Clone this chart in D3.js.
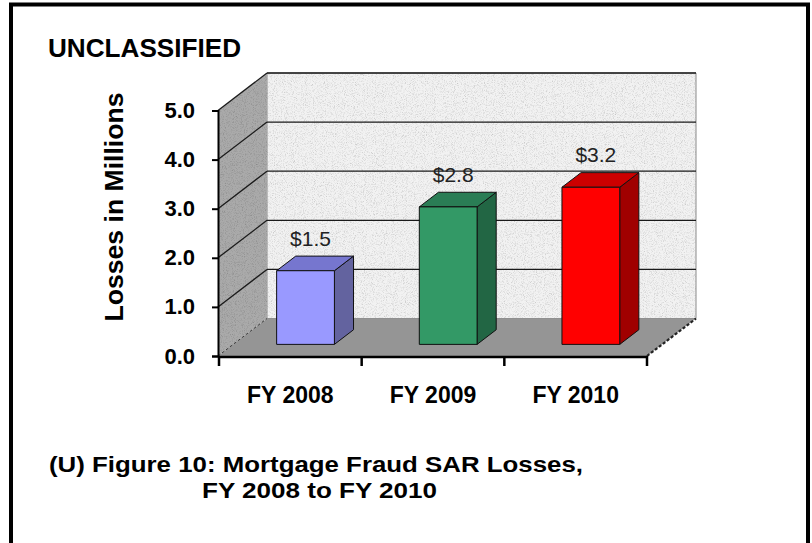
<!DOCTYPE html>
<html>
<head>
<meta charset="utf-8">
<script src="https://cdn.jsdelivr.net/npm/d3@7"></script>
<style>
  body { margin: 0; background: #fff; }
  text { font-family: "Liberation Sans", Arial, sans-serif; }
</style>
</head>
<body>
<div id="chart"></div>
<script>
// data
var years = ["FY 2008", "FY 2009", "FY 2010"];
var losses = [1.5, 2.8, 3.2];
var valueLabels = ["$1.5", "$2.8", "$3.2"];
var yTicks = [0, 1, 2, 3, 4, 5];

// colours for each bar: front, top, side
var barFront = ["#9999ff", "#339966", "#ff0000"];
var barTop = ["#7676cf", "#2a7d55", "#cc0000"];
var barSide = ["#63639f", "#226644", "#a00000"];

var svgWidth = 812;
var svgHeight = 543;

// 3d depth offset of the back wall
var DX = 49, DY = -37.5;
var z0 = 0.31, z1 = 0.70;

var svg = d3.select("#chart")
  .append("svg")
  .attr("width", svgWidth)
  .attr("height", svgHeight);

// granite-like speckle for the walls
var defs = svg.append("defs");
var f = defs.append("filter")
  .attr("id", "speckle")
  .attr("x", 0).attr("y", 0).attr("width", 1).attr("height", 1);
f.append("feTurbulence")
  .attr("type", "fractalNoise")
  .attr("baseFrequency", 1.1)
  .attr("numOctaves", 2)
  .attr("seed", 7)
  .attr("result", "noise");
f.append("feColorMatrix")
  .attr("in", "noise").attr("type", "saturate").attr("values", 0)
  .attr("result", "grey");
var ct = f.append("feComponentTransfer").attr("in", "grey").attr("result", "soft");
["feFuncR", "feFuncG", "feFuncB"].forEach(function(fn) {
  ct.append(fn).attr("type", "linear").attr("slope", 1.1).attr("intercept", 0.42);
});
ct.append("feFuncA").attr("type", "linear").attr("slope", 0).attr("intercept", 1);
f.append("feBlend").attr("in", "SourceGraphic").attr("in2", "soft")
  .attr("mode", "multiply").attr("result", "blend");
f.append("feComposite").attr("in", "blend").attr("in2", "SourceGraphic").attr("operator", "in");

// frame
svg.append("path")
  .attr("d", "M11,543 V4.5 H808 V543")
  .attr("fill", "none")
  .attr("stroke", "#000")
  .attr("stroke-width", 4);

// scales
var xScale = d3.scaleBand()
  .domain(years)
  .range([219, 647]);

var yScale = d3.scaleLinear()
  .domain([0, 5])
  .range([356, 110.5]);

var axisX = 218;
var xEnd = 647;

function px(x, z) { return x + z * DX; }
function py(y, z) { return y + z * DY; }
function pt(x, y, z) { return [px(x, z), py(y, z)]; }
function poly(pts) { return "M" + pts.map(function(p) { return p.join(","); }).join("L") + "Z"; }

var chartGroup = svg.append("g");

// back wall
var backWall = poly([pt(axisX, yScale(5), 1), pt(xEnd, yScale(5), 1), pt(xEnd, yScale(0), 1), pt(axisX, yScale(0), 1)]);
chartGroup.append("path")
  .attr("d", backWall)
  .attr("fill", "#f2f2f2")
  .attr("filter", "url(#speckle)");
chartGroup.append("path")
  .attr("d", backWall)
  .attr("fill", "none")
  .attr("stroke", "#8a8a8a");

// left wall
chartGroup.append("path")
  .attr("d", poly([pt(axisX, yScale(0), 0), pt(axisX, yScale(5), 0), pt(axisX, yScale(5), 1), pt(axisX, yScale(0), 1)]))
  .attr("fill", "#aaaaaa")
  .attr("filter", "url(#speckle)");

// floor
chartGroup.append("path")
  .attr("d", poly([pt(axisX, yScale(0), 0), pt(xEnd, yScale(0), 0), pt(xEnd, yScale(0), 1), pt(axisX, yScale(0), 1)]))
  .attr("fill", "#959595");

// gridlines on back wall and left wall
chartGroup.selectAll(".grid-back")
  .data(yTicks.filter(function(d) { return d > 0; }))
  .enter()
  .append("line")
  .attr("x1", px(axisX, 1))
  .attr("x2", px(xEnd, 1))
  .attr("y1", function(d) { return py(yScale(d), 1); })
  .attr("y2", function(d) { return py(yScale(d), 1); })
  .attr("stroke", "#1a1a1a")
  .attr("stroke-width", 1.3);

chartGroup.selectAll(".grid-side")
  .data(yTicks)
  .enter()
  .append("line")
  .attr("x1", axisX)
  .attr("x2", px(axisX, 1))
  .attr("y1", function(d) { return yScale(d); })
  .attr("y2", function(d) { return py(yScale(d), 1); })
  .attr("stroke", "#1a1a1a")
  .attr("stroke-width", function(d) { return d === 0 ? 0.8 : 1.3; })
  .attr("stroke-dasharray", function(d) { return d === 0 ? "3,2" : null; });

// floor right edge with small depth ticks
chartGroup.append("line")
  .attr("x1", xEnd).attr("y1", yScale(0))
  .attr("x2", px(xEnd, 1)).attr("y2", py(yScale(0), 1))
  .attr("stroke", "#222")
  .attr("stroke-width", 2.2)
  .attr("stroke-dasharray", "3,2");

// bars
var bw = xScale.bandwidth() * 0.405;
losses.forEach(function(v, i) {
  var x0 = xScale(years[i]) + (xScale.bandwidth() - bw) / 2;
  var x1 = x0 + bw;
  var yt = yScale(v);
  var yb = yScale(0);
  var g = chartGroup.append("g").attr("stroke", "#111").attr("stroke-width", 1).attr("stroke-linejoin", "round");
  g.append("path")
    .attr("d", poly([pt(x1, yt, z0), pt(x1, yb, z0), pt(x1, yb, z1), pt(x1, yt, z1)]))
    .attr("fill", barSide[i]);
  g.append("path")
    .attr("d", poly([pt(x0, yt, z0), pt(x1, yt, z0), pt(x1, yt, z1), pt(x0, yt, z1)]))
    .attr("fill", barTop[i]);
  g.append("path")
    .attr("d", poly([pt(x0, yt, z0), pt(x1, yt, z0), pt(x1, yb, z0), pt(x0, yb, z0)]))
    .attr("fill", barFront[i]);

  chartGroup.append("text")
    .attr("x", px((x0 + x1) / 2, z0) + 5)
    .attr("y", py(yt, z0) - 25)
    .attr("text-anchor", "middle")
    .attr("font-size", "21px")
    .attr("fill", "#222")
    .text(valueLabels[i]);
});

// y axis
var leftAxis = d3.axisLeft(yScale)
  .tickValues(yTicks)
  .tickFormat(d3.format(".1f"))
  .tickSize(6)
  .tickPadding(17);

var yAxisG = chartGroup.append("g")
  .attr("transform", "translate(" + axisX + ",0)")
  .call(leftAxis);
yAxisG.select(".domain").attr("stroke", "#000").attr("stroke-width", 2);
yAxisG.selectAll(".tick line").attr("stroke", "#000").attr("stroke-width", 2);
yAxisG.selectAll(".tick text")
  .attr("font-family", "'Liberation Sans', Arial, sans-serif")
  .attr("font-size", "22px")
  .attr("font-weight", "bold")
  .attr("fill", "#000");

// x axis: line, ticks at band edges, labels at band centres
var xEdges = years.map(function(d) { return xScale(d); }).concat([xEnd]);
chartGroup.append("line")
  .attr("x1", axisX).attr("x2", xEnd)
  .attr("y1", yScale(0) + 1).attr("y2", yScale(0) + 1)
  .attr("stroke", "#000").attr("stroke-width", 2.5);
chartGroup.selectAll(".xtick")
  .data(xEdges)
  .enter()
  .append("line")
  .attr("x1", function(d) { return d; })
  .attr("x2", function(d) { return d; })
  .attr("y1", yScale(0))
  .attr("y2", yScale(0) + 10)
  .attr("stroke", "#000")
  .attr("stroke-width", 2.5);
chartGroup.selectAll(".xlabel")
  .data(years)
  .enter()
  .append("text")
  .attr("x", function(d) { return xScale(d) + xScale.bandwidth() / 2; })
  .attr("y", 403)
  .attr("text-anchor", "middle")
  .attr("font-size", "23px")
  .attr("font-weight", "bold")
  .text(function(d) { return d; });

// axis title
svg.append("text")
  .attr("transform", "translate(123,207) rotate(-90)")
  .attr("text-anchor", "middle")
  .attr("font-size", "26px")
  .attr("font-weight", "bold")
  .attr("textLength", 229)
  .attr("lengthAdjust", "spacingAndGlyphs")
  .text("Losses in Millions");

// headers and caption
svg.append("text")
  .attr("x", 48)
  .attr("y", 57)
  .attr("font-size", "26px")
  .attr("font-weight", "bold")
  .attr("textLength", 193)
  .attr("lengthAdjust", "spacingAndGlyphs")
  .text("UNCLASSIFIED");

svg.append("text")
  .attr("x", 49)
  .attr("y", 472)
  .attr("font-size", "22px")
  .attr("font-weight", "bold")
  .attr("textLength", 534)
  .attr("lengthAdjust", "spacingAndGlyphs")
  .text("(U) Figure 10: Mortgage Fraud SAR Losses,");

svg.append("text")
  .attr("x", 202)
  .attr("y", 498)
  .attr("font-size", "22px")
  .attr("font-weight", "bold")
  .attr("textLength", 235)
  .attr("lengthAdjust", "spacingAndGlyphs")
  .text("FY 2008 to FY 2010");
</script>
</body>
</html>
